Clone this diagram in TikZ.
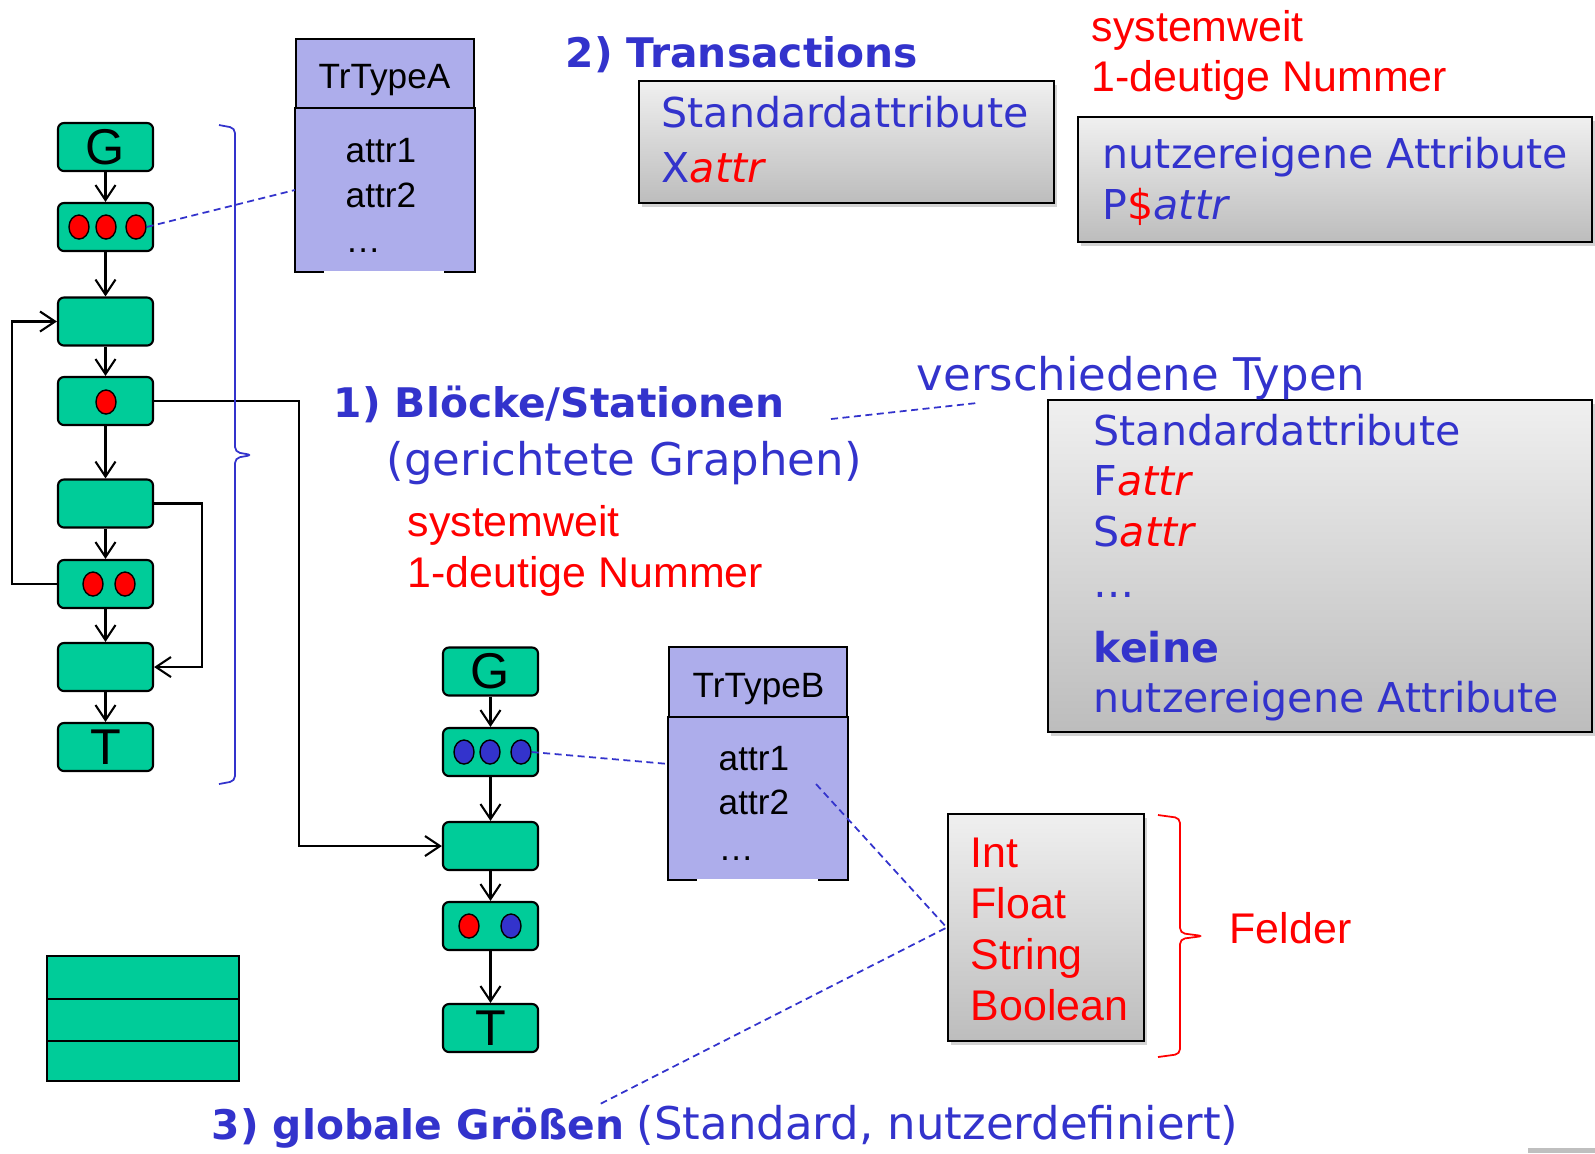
\documentclass[tikz,border=0pt]{standalone}
\usepackage{fontspec}
\setmainfont{Liberation Sans}
\newfontfamily\comicfont{DejaVu Sans}
\usetikzlibrary{arrows.meta,positioning,shapes.geometric,shadows}

\definecolor{blockgreen}{RGB}{0,204,153}
\definecolor{typeblue}{RGB}{173,173,235}
\definecolor{inkblue}{RGB}{51,51,204}

\tikzset{
  block/.style={draw, line width=0.6pt, rounded corners=0.06cm, fill=blockgreen, minimum width=0.95cm, minimum height=0.48cm, inner sep=0pt, font=\fontsize{14.3}{14.3}\selectfont},
  dot/.style={ellipse, draw, line width=0.4pt, minimum width=0.2cm, minimum height=0.24cm, inner sep=0pt},
  flow/.style={line width=0.6pt, -{Straight Barb[length=0.15cm,width=0.2cm]}},
  link/.style={inkblue, dash pattern=on 0.07cm off 0.045cm, line width=0.5pt},
  curly/.style={line width=0.5pt, rounded corners=0.05cm},
  typebox/.style={fill=typeblue, draw, line width=0.6pt, minimum width=1.78cm, inner sep=0pt},
  attrbox/.style={draw, line width=0.7pt, top color=gray!12, bottom color=gray!52, drop shadow={shadow xshift=0.03cm, shadow yshift=-0.04cm, opacity=0.35}, inner sep=0pt},
  head/.style={anchor=base west, inner sep=0pt, text=inkblue, font=\comicfont\bfseries\fontsize{11.6}{14}\selectfont},
  note/.style={anchor=base west, inner sep=0pt, text=inkblue, font=\comicfont\fontsize{12.8}{15}\selectfont},
  boxtext/.style={anchor=base west, inner sep=0pt, text=inkblue, font=\comicfont\fontsize{11.7}{14}\selectfont},
  redtext/.style={anchor=base west, inner sep=0pt, text=red, font=\fontsize{12.2}{14}\selectfont},
  attrtext/.style={anchor=base west, inner sep=0pt, font=\fontsize{10}{12}\selectfont},
}

\begin{document}
\begin{tikzpicture}[x=0.01cm, y=-0.01cm]
\useasboundingbox (0,0) rectangle (1595,1153);

% first graph
\node[block] (a1) at (105.5,147) {G};
\node[block] (a2) at (105.5,227) {};
\node[block] (a3) at (105.5,321.5) {};
\node[block] (a4) at (105.5,401) {};
\node[block] (a5) at (105.5,503.5) {};
\node[block] (a6) at (105.5,584) {};
\node[block] (a7) at (105.5,667) {};
\node[block] (a8) at (105.5,747) {T};
\node[dot, fill=red] (a2d1) at (79,227) {};
\node[dot, fill=red] (a2d2) at (106,227) {};
\node[dot, fill=red] (a2d3) at (136,227) {};
\node[dot, fill=red] (a4d1) at (106,402) {};
\node[dot, fill=red] (a6d1) at (93,584) {};
\node[dot, fill=red] (a6d2) at (125,584) {};

\draw[flow] (a1) -- (a2);
\draw[flow] (a2) -- (a3);
\draw[flow] (a3) -- (a4);
\draw[flow] (a4) -- (a5);
\draw[flow] (a5) -- (a6);
\draw[flow] (a6) -- (a7);
\draw[flow] (a7) -- (a8);
\draw[flow] (a6.west) -- ++(-45,0) |- (a3.west);
\draw[flow] (a5.east) -- ++(48,0) |- (a7.east);

% second graph
\node[block] (b1) at (490.5,671.5) {G};
\node[block] (b2) at (490.5,752) {};
\node[block] (b3) at (490.5,846) {};
\node[block] (b4) at (490.5,926) {};
\node[block] (b5) at (490.5,1028) {T};
\node[dot, fill=inkblue] (b2d1) at (464,752) {};
\node[dot, fill=inkblue] (b2d2) at (490,752) {};
\node[dot, fill=inkblue] (b2d3) at (521,752) {};
\node[dot, fill=red] (b4d1) at (469,926) {};
\node[dot, fill=inkblue] (b4d2) at (511,926) {};

\draw[flow] (b1) -- (b2);
\draw[flow] (b2) -- (b3);
\draw[flow] (b3) -- (b4);
\draw[flow] (b4) -- (b5);
\draw[flow] (a4.east) -- ++(145,0) |- (b3.west);

% brace round the blocks
\draw[curly, inkblue] (219,125) -- (235,128) -- (235,452) -- (252,455) -- (235,458) -- (235,781) -- (219,784);

% transaction types
\node[typebox, minimum height=0.70cm] (trAhead) at (385,74) {};
\node[attrtext] (trAname) at (318,88) {TrTypeA};
\node[typebox, draw=none, minimum height=1.62cm] (trA) at (385,190) {};
\draw[line width=0.6pt] (trA.south west) ++(29,0) -- (trA.south west) -- (trA.north west) -- (trA.north east) -- (trA.south east) -- ++(-31,0);
\node[attrtext] (trA1) at (345,162) {attr1};
\node[attrtext] (trA2) at (345,207) {attr2};
\node[attrtext] (trA3) at (345,252) {\ldots};

\node[typebox, minimum height=0.71cm] (trBhead) at (758,682.5) {};
\node[attrtext] (trBname) at (692,697) {TrTypeB};
\node[typebox, draw=none, minimum height=1.61cm] (trB) at (758,798.5) {};
\draw[line width=0.6pt] (trB.south west) ++(29,0) -- (trB.south west) -- (trB.north west) -- (trB.north east) -- (trB.south east) -- ++(-30,0);
\node[attrtext] (trB1) at (718,770) {attr1};
\node[attrtext] (trB2) at (718,814) {attr2};
\node[attrtext] (trB3) at (718,860) {\ldots};

% attribute boxes
\node[attrbox, minimum width=4.15cm, minimum height=1.22cm] (xbox) at (846.5,142) {};
\node[boxtext] (xstd) at (661,127) {Standardattribute};
\node[boxtext] (xattr) at (661,182) {X\textcolor{red}{\itshape attr}};

\node[attrbox, minimum width=5.14cm, minimum height=1.25cm] (pbox) at (1335,179.5) {};
\node[boxtext] (pown) at (1102,168) {nutzereigene Attribute};
\node[boxtext] (pattr) at (1102,219) {P\textcolor{red}{\$}\itshape attr};

\node[attrbox, minimum width=5.44cm, minimum height=3.32cm] (fbox) at (1320,566) {};
\node[boxtext] (fstd) at (1093,445) {Standardattribute};
\node[boxtext] (fattr) at (1093,495) {F\textcolor{red}{\itshape attr}};
\node[boxtext] (sattr) at (1093,546) {S\textcolor{red}{\itshape attr}};
\node[boxtext] (fmore) at (1093,597) {\ldots};
\node[boxtext, font=\comicfont\bfseries\fontsize{11.7}{14}\selectfont] (fnone) at (1093,662) {keine};
\node[boxtext] (fown) at (1093,712) {nutzereigene Attribute};

\node[attrbox, minimum width=1.96cm, minimum height=2.27cm] (fl) at (1046,927.5) {};
\node[redtext] (fl1) at (970,867) {Int};
\node[redtext] (fl2) at (970,918) {Float};
\node[redtext] (fl3) at (970,969) {String};
\node[redtext] (fl4) at (970,1020) {Boolean};
\draw[curly, red] (1158,815) -- (1180,818) -- (1180,933) -- (1203,936) -- (1180,939) -- (1180,1054) -- (1158,1057);
\node[redtext] (felder) at (1229,943) {Felder};

% global values
\filldraw[fill=blockgreen, line width=0.6pt] (47,956) rectangle (239,1081);
\draw[line width=0.6pt] (47,999) -- (239,999) (47,1041) -- (239,1041);

% headings
\node[head] (trhead) at (565,67) {2) Transactions};
\node[redtext] (trsys) at (1091,41) {systemweit};
\node[redtext] (trnum) at (1091,91) {1-deutige Nummer};
\node[head] (blk) at (333,417) {1) Blöcke/Stationen};
\node[note] (graphs) at (386,475) {(gerichtete Graphen)};
\node[redtext] (bsys) at (407,536) {systemweit};
\node[redtext] (bnum) at (407,587) {1-deutige Nummer};
\node[note] (types) at (916,390) {verschiedene Typen};
\node[head] (glob) at (211,1139) {3) globale Größen};
\node[note] (globnote) at (636,1139) {(Standard, nutzerdefiniert)};

% dashed references
\coordinate (trBin) at (669,764);
\coordinate (attrB) at (816,784);
\coordinate (globin) at (600,1104);
\coordinate (blkend) at (831,419);
\coordinate (typesin) at (977,403);
\draw[link] (a2d3.east) -- (trA.west);
\draw[link] (b2d3.east) -- (trBin);
\draw[link] (attrB) -- (fl.west) -- (globin);
\draw[link] (blkend) -- (typesin);

\fill[gray!50] (1528,1148) rectangle (1595,1153);
\end{tikzpicture}
\end{document}
